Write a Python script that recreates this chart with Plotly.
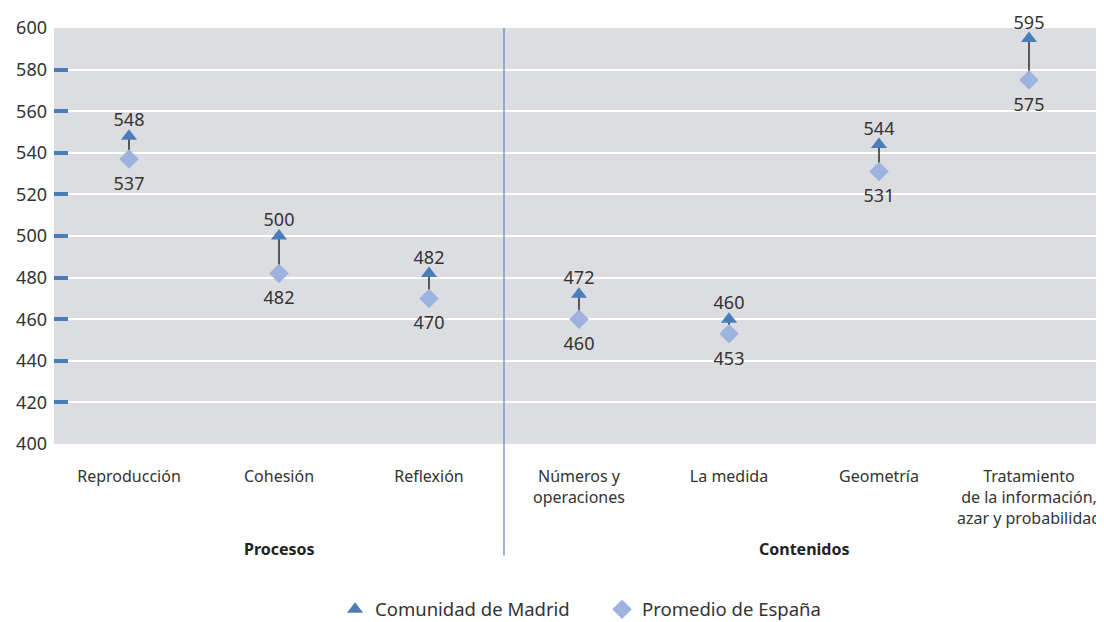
import plotly.graph_objects as go

categorias = [
    "Reproducción",
    "Cohesión",
    "Reflexión",
    "Números y<br>operaciones",
    "La medida",
    "Geometría",
    "Tratamiento<br>de la información,<br>azar y probabilidad",
]
madrid = [548, 500, 482, 472, 460, 544, 595]
espana = [537, 482, 470, 460, 453, 531, 575]
y_ticks = [400, 420, 440, 460, 480, 500, 520, 540, 560, 580, 600]

x_pos = list(range(len(categorias)))
FONT = "Noto Sans"
TXT = "#333333"
AZUL = "#4a7ebb"
AZUL_CLARO = "#9db3df"

fig = go.Figure()

# connector lines spain -> madrid
lx, ly = [], []
for i in x_pos:
    lx += [i, i, None]
    ly += [espana[i], madrid[i], None]
fig.add_trace(go.Scatter(
    x=lx, y=ly, mode="lines", line=dict(color="#2a2a2a", width=1.5),
    showlegend=False, hoverinfo="skip", cliponaxis=False,
))

fig.add_trace(go.Scatter(
    x=x_pos, y=madrid, mode="markers", name="Comunidad de Madrid",
    marker=dict(symbol="triangle-up", size=14, color=AZUL), cliponaxis=False,
))
fig.add_trace(go.Scatter(
    x=x_pos, y=espana, mode="markers", name="Promedio de España",
    marker=dict(symbol="diamond", size=15, color=AZUL_CLARO), cliponaxis=False,
))
# value labels; invisible markers set the gap to the point
fig.add_trace(go.Scatter(
    x=x_pos, y=madrid, mode="markers+text", showlegend=False, hoverinfo="skip",
    marker=dict(size=7, color="rgba(0,0,0,0)"),
    text=[str(v) for v in madrid], textposition="top center", cliponaxis=False,
    textfont=dict(family=FONT, size=18, color=TXT),
))
fig.add_trace(go.Scatter(
    x=x_pos, y=espana, mode="markers+text", showlegend=False, hoverinfo="skip",
    marker=dict(size=26, color="rgba(0,0,0,0)"),
    text=[str(v) for v in espana], textposition="bottom center", cliponaxis=False,
    textfont=dict(family=FONT, size=18, color=TXT),
))

# separator between Procesos and Contenidos
fig.add_shape(type="line", xref="x", yref="paper", x0=2.5, x1=2.5, y0=-0.268, y1=1,
              line=dict(color="#5a85c4", width=1.2))

fig.add_annotation(x=1, y=-0.252, xref="x", yref="paper", yanchor="middle",
                   text="<b>Procesos</b>", showarrow=False,
                   font=dict(family=FONT, size=16, color="#222222"))
fig.add_annotation(x=4.5, y=-0.252, xref="x", yref="paper", yanchor="middle",
                   text="<b>Contenidos</b>", showarrow=False,
                   font=dict(family=FONT, size=16, color="#222222"))

# page body adds an 8px margin, so the figure is shrunk and margins shifted
fig.update_layout(
    width=1096, height=614,
    margin=dict(l=46, r=0, t=20, b=178),
    plot_bgcolor="#dcdde0", paper_bgcolor="white",
    font=dict(family=FONT, size=16, color=TXT),
    legend=dict(orientation="h", xref="container", yref="container",
                x=0.542, xanchor="center", y=0.02, yanchor="middle",
                entrywidth=222, font=dict(family=FONT, size=18.5, color=TXT)),
)
fig.update_xaxes(
    range=[-0.5, 6.5], tickvals=x_pos, ticktext=categorias, showgrid=False,
    zeroline=False, ticks="", ticklabelstandoff=21, automargin=False,
    tickfont=dict(family=FONT, size=16, color=TXT),
)
fig.update_yaxes(
    range=[400, 600], tickvals=y_ticks, showgrid=True, gridcolor="white", gridwidth=1.5,
    zeroline=False, ticks="inside", ticklen=14, tickwidth=4, tickcolor=AZUL,
    tickfont=dict(family=FONT, size=18, color=TXT), ticklabelstandoff=6, automargin=False,
)

fig.write_html("out.html")
